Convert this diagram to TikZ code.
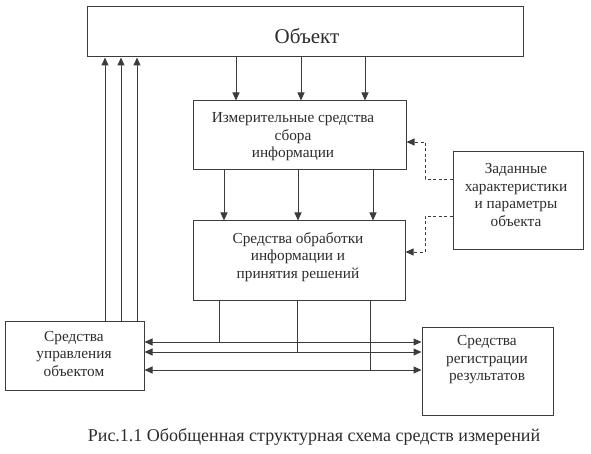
\documentclass[tikz,border=0pt]{standalone}
\usepackage{fontspec}
\setmainfont{Liberation Serif}
\usepackage{tikz}
\usetikzlibrary{arrows.meta,positioning}
\definecolor{lineg}{RGB}{60,60,60}
\definecolor{textg}{RGB}{45,45,45}
\tikzstyle{arrow} = [line width=1pt,-{Triangle[length=8pt,width=7pt]},color=lineg]
\tikzstyle{biarrow} = [line width=1pt,{Triangle[length=8pt,width=7pt]}-{Triangle[length=8pt,width=7pt]},color=lineg]
\tikzstyle{dasharrow} = [line width=0.8pt,dash pattern=on 3pt off 2.5pt,-{Triangle[length=8pt,width=7pt]},color=lineg]
\tikzstyle{link} = [line width=1pt,color=lineg]
\tikzstyle{block} = [rectangle, draw=lineg, line width=1pt, inner sep=0pt]
\tikzstyle{boxtext} = [text=textg, align=center, inner sep=0pt, font=\fontsize{15.3}{17.5}\selectfont]

\begin{document}
\begin{tikzpicture}[x=1pt,y=-1pt]
\useasboundingbox[fill=white] (0,0) rectangle (591,454);
% Blocks
\node (obj) [block, minimum width=436pt, minimum height=50pt] at (305,32) {};
\node (objtxt) [boxtext, font=\fontsize{21}{24}\selectfont] at (307,36) {Объект};
\node (meas) [block, minimum width=213pt, minimum height=69pt] at (299.5,135.5) {};
\node (meastxt) [boxtext] at (293,137) {Измерительные средства\\сбора\\информации};
\node (proc) [block, minimum width=212pt, minimum height=79pt] at (299,260.5) {};
\node (proctxt) [boxtext] at (298,257) {Средства обработки\\информации и\\принятия решений};
\node (zad) [block, minimum width=130pt, minimum height=97pt] at (518,200.5) {};
\node (zadtxt) [boxtext] at (516,195) {Заданные\\характеристики\\и параметры\\объекта};
\node (ctrl) [block, minimum width=139pt, minimum height=69pt] at (74.5,355.5) {};
\node (ctrltxt) [boxtext] at (74,354) {Средства\\управления\\объектом};
\node (reg) [block, minimum width=131pt, minimum height=88pt] at (487.5,371) {};
\node (regtxt) [boxtext] at (487,360) {Средства\\регистрации\\результатов};

% Arrows
\foreach \x in {236,301,365}
  \draw[arrow] (obj.south -| \x,0) -- (meas.north -| \x,0);
\foreach \x in {224,298,373}
  \draw[arrow] (meas.south -| \x,0) -- (proc.north -| \x,0);
\foreach \x in {105,121,137}
  \draw[arrow] (ctrl.north -| \x,0) -- (obj.south -| \x,0);
\foreach \y in {342,352,370}
  \draw[biarrow] (ctrl.east |- 0,\y) -- (reg.west |- 0,\y);
\draw[link] (proc.south -| 219,0) -- (219,342);
\draw[link] (proc.south -| 297,0) -- (297,352);
\draw[link] (proc.south -| 370,0) -- (370,370);

% Dashed links
\draw[dasharrow] (zad.west |- 0,179) -| (425,142) -- (meas.east |- 0,142);
\draw[dasharrow] (zad.west |- 0,216) -| (425,252) -- (proc.east |- 0,252);

% Caption
\node (cap) [boxtext, font=\fontsize{18}{21}\selectfont] at (314,437) {Рис.1.1 Обобщенная структурная схема средств измерений};
\end{tikzpicture}
\end{document}
